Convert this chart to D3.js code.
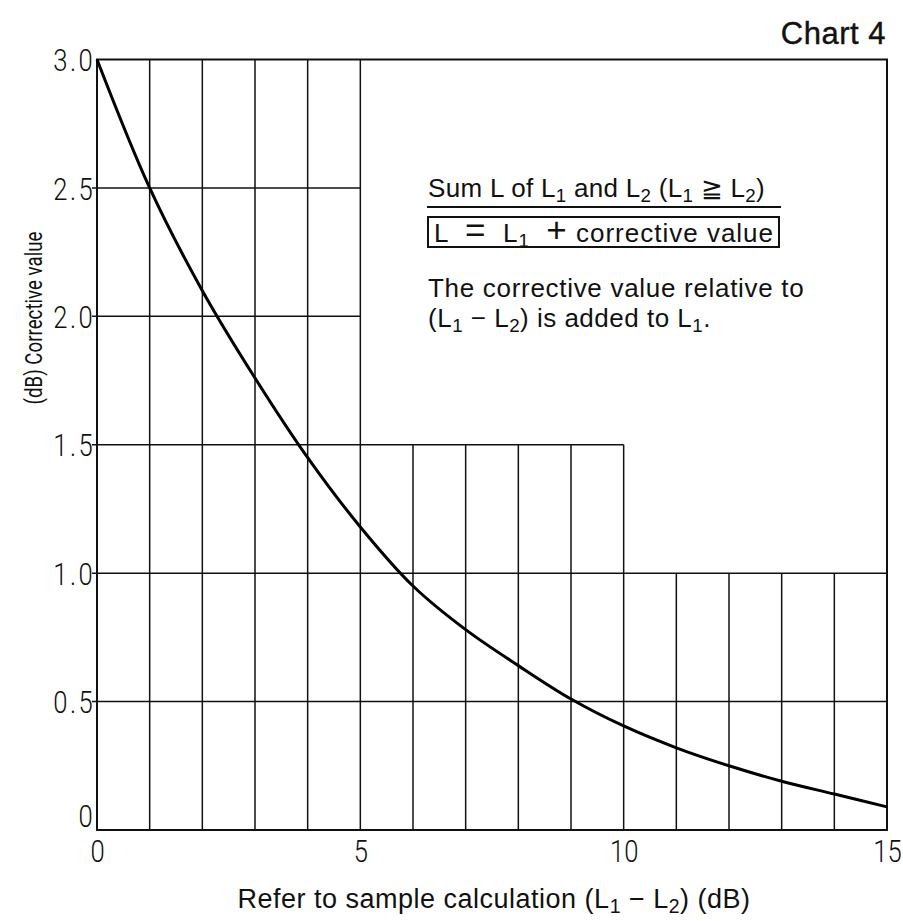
<html>
<head>
<script src="https://d3js.org/d3.v7.min.js"></script>
<style>
  body { margin: 0; background: #fff; }
  svg text { fill: #111; }
</style>
</head>
<body>
<svg></svg>
<script>
// level difference L1 - L2 (dB) and the corrective value
var diffs = [0, 1, 2, 3, 4, 5, 6, 7, 8, 9, 10, 11, 12, 13, 14, 15];
var corrections = [3.0, 2.5, 2.1, 1.76, 1.45, 1.18, 0.95, 0.78, 0.64, 0.51, 0.405, 0.32, 0.25, 0.19, 0.14, 0.09];

var xTickValues = [0, 5, 10, 15];
var xTickLabels = ["0", "5", "10", "15"];
var yTickValues = [0, 0.5, 1, 1.5, 2, 2.5, 3];
var yTickLabels = ["0", "0.5", "1.0", "1.5", "2.0", "2.5", "3.0"];

// stepped grid: vertical lines and how high they go, horizontal lines and how far they run
var gridX = [1, 2, 3, 4, 5, 6, 7, 8, 9, 10, 11, 12, 13, 14];
var gridXTop = [3, 3, 3, 3, 3, 1.5, 1.5, 1.5, 1.5, 1.5, 1, 1, 1, 1];
var gridY = [0.5, 1, 1.5, 2, 2.5];
var gridYEnd = [15, 15, 10, 5, 5];

var width = 903, height = 921;
var margin = {left: 97, right: 16, top: 59.5, bottom: 91};
var squeeze = 0.8; // the chart's numerals are tall and narrow

var svg = d3.select("svg").attr("width", width).attr("height", height);

var x = d3.scaleLinear().domain([0, 15]).range([margin.left, width - margin.right]);
var y = d3.scaleLinear().domain([0, 3]).range([height - margin.bottom, margin.top]);

// grid
svg.append("g").selectAll("line")
  .data(gridX)
  .enter().append("line")
    .attr("x1", function(d){ return x(d); })
    .attr("x2", function(d){ return x(d); })
    .attr("y1", y(0))
    .attr("y2", function(d, i){ return y(gridXTop[i]); })
    .attr("stroke", "#111").attr("stroke-width", 1.5);

svg.append("g").selectAll("line")
  .data(gridY)
  .enter().append("line")
    .attr("x1", x(0) - 5)
    .attr("x2", function(d, i){ return x(gridYEnd[i]); })
    .attr("y1", function(d){ return y(d); })
    .attr("y2", function(d){ return y(d); })
    .attr("stroke", "#111").attr("stroke-width", 1.5);

// frame
svg.append("rect")
  .attr("x", x(0)).attr("y", y(3))
  .attr("width", x(15) - x(0)).attr("height", y(0) - y(3))
  .attr("fill", "none").attr("stroke", "#111").attr("stroke-width", 2);

// axes (labels only)
var xAxis = d3.axisBottom(x).tickValues(xTickValues)
  .tickFormat(function(d, i){ return xTickLabels[i]; }).tickSize(0).tickPadding(9);
var gx = svg.append("g").attr("transform", "translate(0," + y(0) + ")").call(xAxis);
gx.select(".domain").remove();
gx.selectAll("text")
  .attr("font-family", "Roboto, sans-serif")
  .attr("font-size", 32).attr("font-weight", 300)
  .attr("fill", "#111")
  .attr("transform", "scale(" + squeeze + ",1)");

var yAxis = d3.axisLeft(y).tickValues(yTickValues)
  .tickFormat(function(d, i){ return yTickLabels[i]; }).tickSize(0);
var gy = svg.append("g").attr("transform", "translate(" + x(0) + ",0)").call(yAxis);
gy.select(".domain").remove();
gy.selectAll("text")
  .attr("font-family", "Roboto, sans-serif")
  .attr("font-size", 32).attr("font-weight", 300).attr("letter-spacing", 3)
  .attr("fill", "#111")
  .attr("x", -2 / squeeze)
  .attr("transform", "scale(" + squeeze + ",1)")
  .attr("dy", function(d){ return d === 0 ? "-0.12em" : "0.35em"; });

// curve
var line = d3.line()
  .x(function(d, i){ return x(diffs[i]); })
  .y(function(d){ return y(d); })
  .curve(d3.curveCatmullRom.alpha(0.5));

svg.append("path")
  .datum(corrections)
  .attr("d", line)
  .attr("fill", "none").attr("stroke", "#000").attr("stroke-width", 3);

// text with subscripts: parts are strings, {sub: "1"} or {big: "+"}
function richText(t, parts) {
  var down = false;
  parts.forEach(function(p){
    if (typeof p === "string") {
      t.append("tspan").attr("dy", down ? -5 : null).text(p);
      down = false;
    } else if (p.sub) {
      t.append("tspan").attr("dy", 5).attr("font-size", "72%").text(p.sub);
      down = true;
    } else {
      t.append("tspan").attr("dy", down ? -5 : null)
        .attr("font-size", "135%").attr("font-weight", 300).text(p.big);
      down = false;
    }
  });
  return t;
}

var noteFont = "'Liberation Sans', Arial, sans-serif";

function note(xp, yp, ls) {
  return svg.append("text").attr("x", xp).attr("y", yp)
    .attr("font-family", noteFont).attr("font-size", 26).attr("letter-spacing", ls)
    .style("white-space", "pre");
}

richText(note(428, 197, 0.3), ["Sum L of L", {sub: "1"}, " and L", {sub: "2"}, " (L", {sub: "1"}, " \u2267 L", {sub: "2"}, ")"]);
svg.append("line").attr("x1", 427).attr("x2", 781).attr("y1", 207).attr("y2", 207)
  .attr("stroke", "#111").attr("stroke-width", 2);

svg.append("rect").attr("x", 428).attr("y", 217).attr("width", 351).attr("height", 30)
  .attr("fill", "none").attr("stroke", "#111").attr("stroke-width", 2);
richText(note(434, 242, 1.0), ["L  ", {big: "="}, "  L", {sub: "1"}, "  ", {big: "+"}, " corrective value"]);

richText(note(428, 297, 0.7), ["The corrective value relative to"]);
richText(note(428, 327, 0.5), ["(L", {sub: "1"}, " \u2212 L", {sub: "2"}, ") is added to L", {sub: "1"}, "."]);

// titles
svg.append("text").attr("x", 886).attr("y", 44)
  .attr("text-anchor", "end")
  .attr("font-family", noteFont).attr("font-size", 31).attr("letter-spacing", 0.5)
  .attr("stroke", "#111").attr("stroke-width", 0.4)
  .text("Chart 4");

var xt = svg.append("text").attr("x", 494).attr("y", 908)
  .attr("text-anchor", "middle")
  .attr("font-family", noteFont).attr("font-size", 27).attr("letter-spacing", 0.5);
richText(xt, ["Refer to sample calculation (L", {sub: "1"}, " \u2212 L", {sub: "2"}, ") (dB)"]);

svg.append("text")
  .attr("transform", "translate(42,318) rotate(-90) scale(0.78,1)")
  .attr("text-anchor", "middle")
  .attr("font-family", "Roboto, sans-serif").attr("font-weight", 400)
  .attr("font-size", 24)
  .text("(dB) Corrective value");
</script>
</body>
</html>
